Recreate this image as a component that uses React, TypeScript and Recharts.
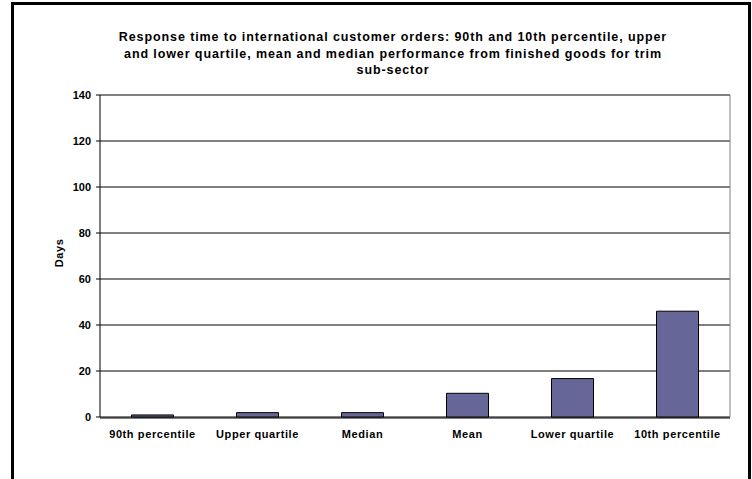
import { BarChart, Bar, XAxis, YAxis, CartesianGrid } from "recharts";

const categories = [
  "90th percentile",
  "Upper quartile",
  "Median",
  "Mean",
  "Lower quartile",
  "10th percentile",
];
const days = [0.9, 1.9, 1.9, 10.3, 16.7, 46];
const yTicks = [0, 20, 40, 60, 80, 100, 120, 140];
const slotTicks = [0, 1, 2, 3, 4, 5, 6];

const titleLines = [
  "Response time to international customer orders: 90th and 10th percentile, upper",
  "and lower quartile, mean and median performance from finished goods for trim",
  "sub-sector",
];

const font = '"Liberation Sans", Arial, sans-serif';
const yTickStyle = { fill: "#000", fontSize: 11, fontWeight: 700, fontFamily: font };
const xTickStyle = { ...yTickStyle, letterSpacing: 0.6 };

export default function App() {
  const data = categories.map((name, i) => ({ name, days: days[i] }));

  return (
    <div
      style={{
        position: "absolute",
        left: 0,
        top: 0,
        width: 752,
        height: 479,
        overflow: "hidden",
        background: "#fff",
        fontFamily: font,
      }}
    >
      {/* outer frame, bottom edge runs off the picture */}
      <div
        style={{
          position: "absolute",
          left: 11,
          top: 2,
          width: 734,
          height: 500,
          border: "3px solid #000",
        }}
      />
      <div
        style={{
          position: "absolute",
          left: 43,
          top: 29,
          width: 700,
          textAlign: "center",
          fontSize: 12.5,
          fontWeight: 700,
          letterSpacing: 0.9,
          lineHeight: "16.5px",
          color: "#000",
        }}
      >
        {titleLines.map((t) => (
          <div key={t}>{t}</div>
        ))}
      </div>
      <div
        style={{
          position: "absolute",
          left: 59,
          top: 253,
          transform: "translate(-50%, -50%) rotate(-90deg)",
          fontSize: 11,
          fontWeight: 700,
          letterSpacing: 0.6,
          color: "#000",
        }}
      >
        Days
      </div>
      <BarChart
        width={752}
        height={479}
        data={data}
        margin={{ top: 95, right: 21, bottom: 60, left: 99 }}
        barCategoryGap="30%"
        style={{ position: "absolute", left: 0, top: 0 }}
      >
        <CartesianGrid vertical={false} stroke="#000" />
        <XAxis
          xAxisId="slots"
          type="number"
          domain={[0, 6]}
          ticks={slotTicks}
          height={1}
          tick={false}
          axisLine={{ stroke: "#000" }}
          tickLine={{ stroke: "#000" }}
          tickSize={5}
        />
        <XAxis
          dataKey="name"
          height={1}
          axisLine={false}
          tickLine={false}
          tickSize={0}
          tickMargin={13}
          tick={xTickStyle}
          interval={0}
        />
        <YAxis
          width={1}
          domain={[0, 140]}
          ticks={yTicks}
          axisLine={{ stroke: "#000" }}
          tickLine={{ stroke: "#000" }}
          tickSize={4}
          tickMargin={5}
          tick={yTickStyle}
        />
        <YAxis
          yAxisId="right"
          orientation="right"
          width={1}
          domain={[0, 140]}
          tick={false}
          tickLine={false}
          axisLine={{ stroke: "#808080" }}
        />
        <Bar
          dataKey="days"
          fill="#666699"
          stroke="#000"
          strokeWidth={1}
          isAnimationActive={false}
        />
      </BarChart>
    </div>
  );
}
